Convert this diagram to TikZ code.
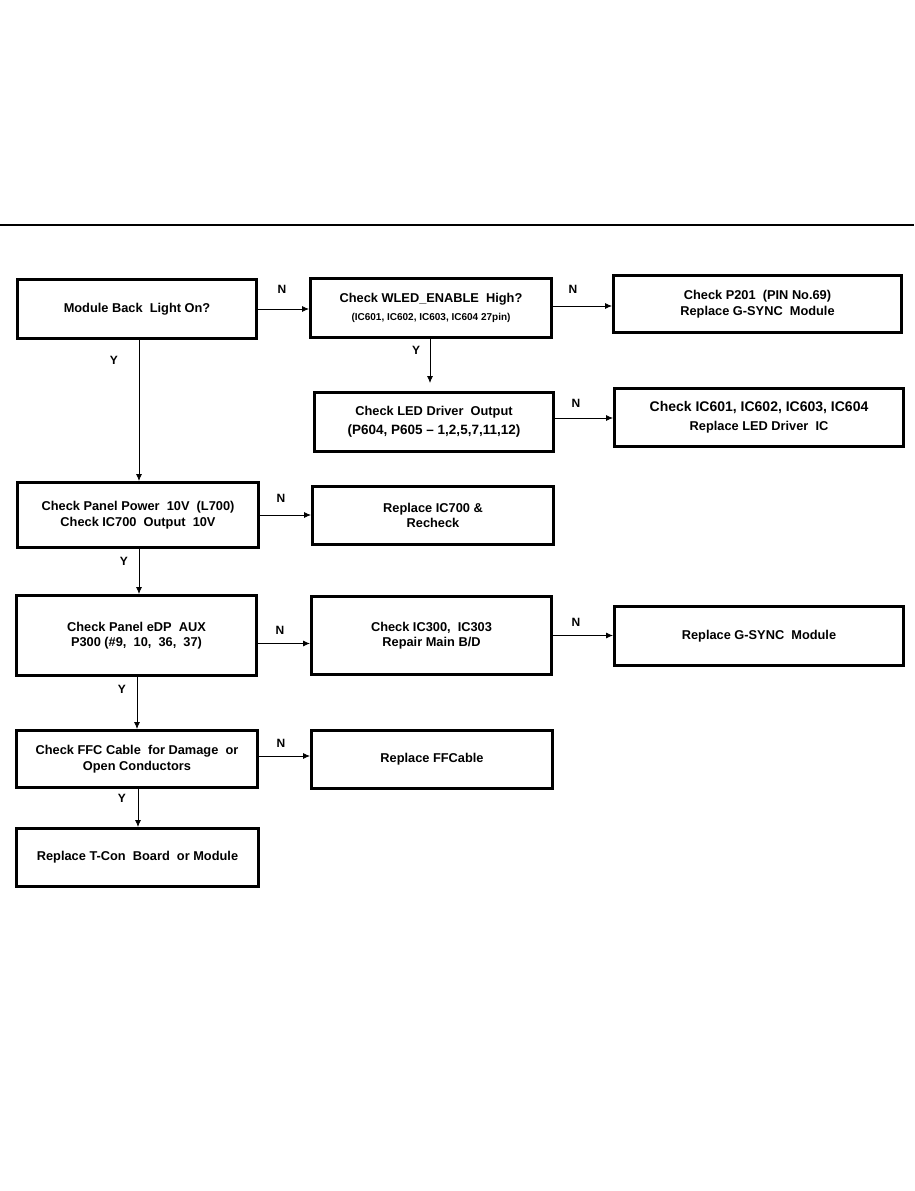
\documentclass[tikz,border=0pt]{standalone}
\usepackage{fontspec}
\setmainfont{Liberation Sans}
\usetikzlibrary{positioning,arrows.meta}

\begin{document}
\begin{tikzpicture}[x=1pt,y=-1pt,
    box/.style={draw, line width=3pt, inner sep=0pt, align=center,
        font=\bfseries\fontsize{12.8}{15.5}\selectfont},
    arr/.style={-{Latex[length=7pt,width=6pt]}, line width=0.8pt},
    yn/.style={font=\bfseries\fontsize{12}{14}\selectfont}]

    % page frame and top rule
    \useasboundingbox (0,0) rectangle (914,1191);
    \draw[line width=1.4pt] (0,225) -- (914,225);

    % first row
    \node[box, minimum width=239pt, minimum height=59pt] (backlight) at (137,309) {Module Back\ \ Light On?};
    \node[box, minimum width=241pt, minimum height=59pt] (wled) at (431,308)
        {Check WLED\_ENABLE\ \ High?\\[2pt]{\fontsize{10}{13}\selectfont(IC601, IC602, IC603, IC604 27pin)}};
    \node[box, minimum width=288pt, minimum height=57pt] (p201) at (757.5,304)
        {Check P201\ \ (PIN No.69)\\Replace G-SYNC\ \ Module};

    % LED driver row
    \node[box, minimum width=239pt, minimum height=59pt] (leddrv) at (434,422)
        {Check LED Driver\ \ Output\\[4pt]{\fontsize{13.5}{16}\selectfont(P604, P605 -- 1,2,5,7,11,12)}};
    \node[box, minimum width=289pt, minimum height=58pt] (ledic) at (759,417.5)
        {{\fontsize{14}{16}\selectfont Check IC601, IC602, IC603, IC604}\\[3pt]Replace LED Driver\ \ IC};

    % panel power row
    \node[box, minimum width=241pt, minimum height=65pt] (power) at (138,515)
        {Check Panel Power\ \ 10V\ \ (L700)\\Check IC700\ \ Output\ \ 10V};
    \node[box, minimum width=241pt, minimum height=58pt] (ic700) at (433,515.5)
        {Replace IC700 \&\\Recheck};

    % eDP row
    \node[box, minimum width=240pt, minimum height=80pt] (edp) at (136.5,635.5)
        {Check Panel eDP\ \ AUX\\P300 (\#9,\ \ 10,\ \ 36,\ \ 37)};
    \node[box, minimum width=240pt, minimum height=78pt] (ic300) at (431.5,635.5)
        {Check IC300,\ \ IC303\\Repair Main B/D};
    \node[box, minimum width=289pt, minimum height=59pt] (gsync) at (759,636)
        {Replace G-SYNC\ \ Module};

    % FFC row
    \node[box, minimum width=241pt, minimum height=57pt] (ffc) at (137,759)
        {Check FFC Cable\ \ for Damage\ \ or\\Open Conductors};
    \node[box, minimum width=241pt, minimum height=58pt] (ffcable) at (432,759.5)
        {Replace FFCable};
    \node[box, minimum width=242pt, minimum height=58pt] (tcon) at (137.5,857.5)
        {Replace T-Con\ \ Board\ \ or Module};

    % N branches
    \draw[arr] (backlight.east) -- (backlight.east -| wled.west);
    \draw[arr] ([yshift=2pt]wled.east) -- ([yshift=2pt]wled.east -| p201.west);
    \draw[arr] ([yshift=4pt]leddrv.east) -- ([yshift=4pt]leddrv.east -| ledic.west);
    \draw[arr] (power.east) -- (power.east -| ic700.west);
    \draw[arr] ([yshift=-8pt]edp.east) -- ([yshift=-8pt]edp.east -| ic300.west);
    \draw[arr] (ic300.east) -- (ic300.east -| gsync.west);
    \draw[arr] ([yshift=3pt]ffc.east) -- ([yshift=3pt]ffc.east -| ffcable.west);

    % Y branches
    \draw[arr] ([xshift=2pt]backlight.south) -- ([xshift=2pt]backlight.south |- power.north);
    \draw[arr, shorten >=8pt] ([xshift=-1pt]wled.south) -- ([xshift=-1pt]wled.south |- leddrv.north);
    \draw[arr] ([xshift=1pt]power.south) -- ([xshift=1pt]power.south |- edp.north);
    \draw[arr] ([xshift=0.5pt]edp.south) -- ([xshift=0.5pt]edp.south |- ffc.north);
    \draw[arr] ([xshift=1pt]ffc.south) -- ([xshift=1pt]ffc.south |- tcon.north);

    % branch labels
    \node[yn] (n1) at (282,289) {N};
    \node[yn] (n2) at (573,289) {N};
    \node[yn] (n3) at (576,403) {N};
    \node[yn] (n4) at (281,498) {N};
    \node[yn] (n5) at (280,630) {N};
    \node[yn] (n6) at (576,622) {N};
    \node[yn] (n7) at (281,743) {N};
    \node[yn] (y1) at (114,360) {Y};
    \node[yn] (y2) at (416,350) {Y};
    \node[yn] (y3) at (124,561) {Y};
    \node[yn] (y4) at (122,689) {Y};
    \node[yn] (y5) at (122,798) {Y};

\end{tikzpicture}
\end{document}
